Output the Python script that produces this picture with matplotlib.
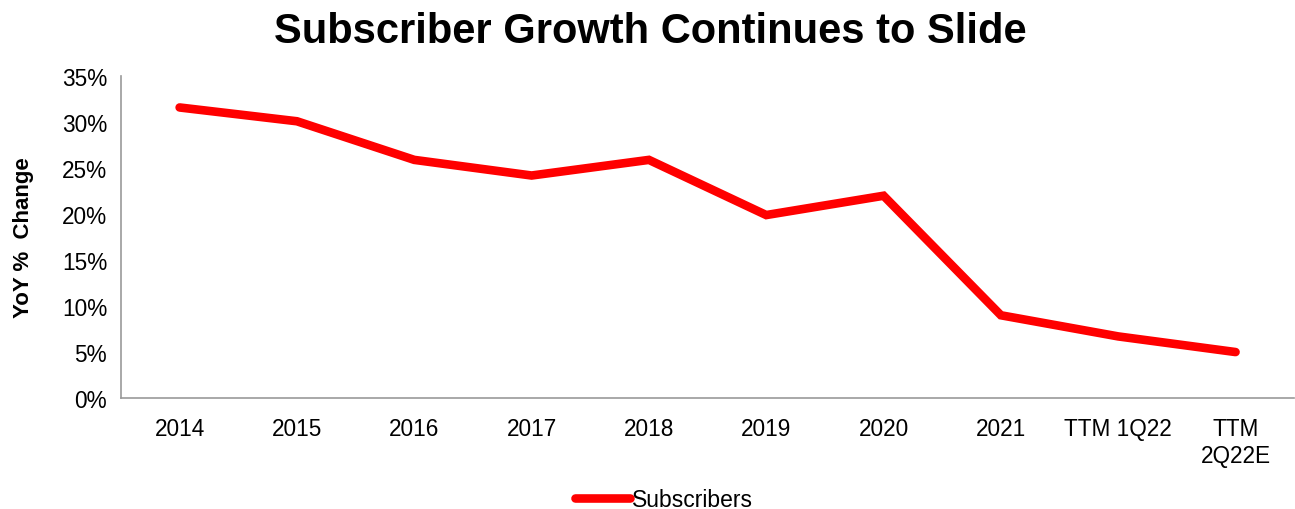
import matplotlib.pyplot as plt
from matplotlib.ticker import PercentFormatter

plt.rcParams['font.family'] = ['Liberation Sans', 'DejaVu Sans']

# --- Data ---
periods = ['2014', '2015', '2016', '2017', '2018', '2019', '2020', '2021',
           'TTM 1Q22', 'TTM\n2Q22E']
subscriber_growth = [31.6, 30.1, 25.9, 24.2, 25.9, 19.9, 22.0, 9.0, 6.7, 5.0]

fig = plt.figure(figsize=(12.95, 5.10), dpi=100)
ax = fig.add_axes([0.0934, 0.2176, 0.906, 0.631])

x = range(len(periods))
ax.plot(x, subscriber_growth, color='#FF0000', linewidth=6.2,
        solid_capstyle='round', solid_joinstyle='miter', label='Subscribers')

ax.set_xlim(-0.5, len(periods) - 0.5)
ax.set_ylim(0, 35)
ax.set_yticks(range(0, 36, 5))
ax.yaxis.set_major_formatter(PercentFormatter(decimals=0))
ax.set_xticks(list(x))
ax.set_xticklabels(periods, va='top', linespacing=1.2)
ax.tick_params(axis='both', length=0, labelsize=16.3, colors='black')
ax.tick_params(axis='x', pad=14)
ax.tick_params(axis='y', pad=10)

for side in ('top', 'right'):
    ax.spines[side].set_visible(False)
for side in ('left', 'bottom'):
    ax.spines[side].set_color('#999999')
    ax.spines[side].set_linewidth(1.2)

ax.set_ylabel('YoY %  Change', fontsize=16, fontweight='bold', labelpad=20)

fig.suptitle('Subscriber Growth Continues to Slide', fontsize=30,
             fontweight='bold', x=0.502, y=0.977)

fig.legend(loc='center', bbox_to_anchor=(0.513, 0.018), frameon=False,
           fontsize=16.5, handlelength=2.4, handletextpad=0.1)

fig.savefig('out.png', dpi=100)
